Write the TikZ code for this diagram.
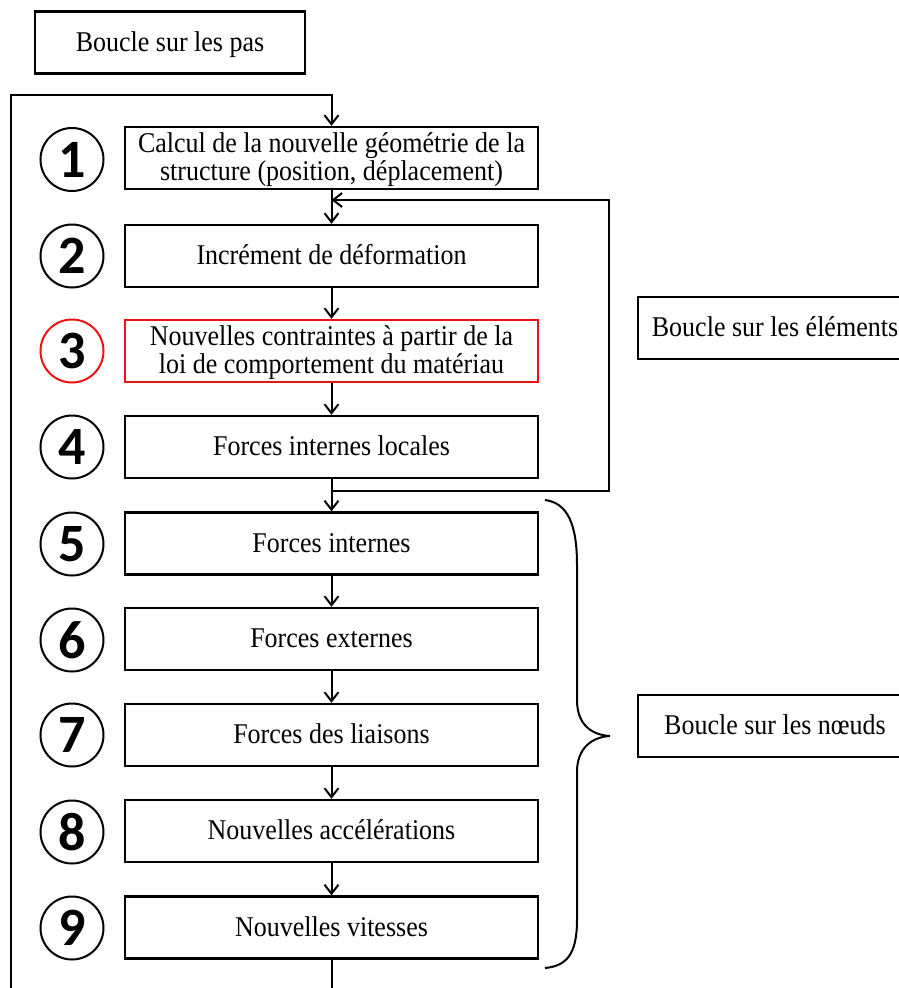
\documentclass[tikz,border=0pt]{standalone}
\usepackage{fontspec}
\usepackage{graphicx}
\setmainfont{Liberation Serif}
\newfontfamily\numfont{Carlito}
\usetikzlibrary{arrows.meta}
\definecolor{myred}{RGB}{235,20,20}
\newcommand\vtext[1]{\raisebox{-3pt}[\height][\depth]{\scalebox{1}[1.1]{\begin{tabular}{@{}c@{}}#1\end{tabular}}}}
\begin{document}
\begin{tikzpicture}[x=1pt,y=-1pt,
  txt/.style={font=\fontsize{26}{25.5}\selectfont},
  stepbox/.style={txt, draw, line width=2.4pt, minimum width=413pt, minimum height=62pt, inner sep=0pt, align=center},
  loopbox/.style={txt, draw, line width=2.4pt, minimum height=62pt, inner sep=0pt, align=center},
  numc/.style={draw, circle, line width=2pt, minimum size=63pt, inner sep=0pt, font=\numfont\bfseries\fontsize{54}{54}\selectfont},
  conn/.style={line width=2pt, -{Straight Barb[length=9pt,width=14pt]}},
  line/.style={line width=2pt}
]
\useasboundingbox (0,0) rectangle (899,988);
\clip (0,0) rectangle (899,988);

\node[loopbox, minimum width=270pt] (pas) at (170,42.5) {\vtext{Boucle sur les pas}};
\node[loopbox, minimum width=274pt] (elem) at (775,328) {\vtext{Boucle sur les éléments}};
\node[loopbox, minimum width=274pt] (noeud) at (775,726) {\vtext{Boucle sur les nœuds}};

\node[stepbox] (b1) at (331.5,158) {\vtext{Calcul de la nouvelle géométrie de la\\structure (position, déplacement)}};
\node[stepbox] (b2) at (331.5,256) {\vtext{Incrément de déformation}};
\node[stepbox, draw=myred] (b3) at (331.5,351) {\vtext{Nouvelles contraintes à partir de la\\loi de comportement du matériau}};
\node[stepbox] (b4) at (331.5,447) {\vtext{Forces internes locales}};
\node[stepbox] (b5) at (331.5,543.5) {\vtext{Forces internes}};
\node[stepbox] (b6) at (331.5,639) {\vtext{Forces externes}};
\node[stepbox] (b7) at (331.5,735) {\vtext{Forces des liaisons}};
\node[stepbox] (b8) at (331.5,831) {\vtext{Nouvelles accélérations}};
\node[stepbox] (b9) at (331.5,927.5) {\vtext{Nouvelles vitesses}};

\node[numc] (n1) at (72,159.5) {1};
\node[numc] (n2) at (72,256) {2};
\node[numc, draw=myred] (n3) at (72,351) {3};
\node[numc] (n4) at (72,447) {4};
\node[numc] (n5) at (72,544) {5};
\node[numc] (n6) at (72,640) {6};
\node[numc] (n7) at (72,735) {7};
\node[numc] (n8) at (72,832) {8};
\node[numc] (n9) at (72,928) {9};

% outer loop
\coordinate (bot) at (331.5,1010);
\coordinate (outl) at (11,1010);
\coordinate (outt) at (11,95);
\draw[conn] (b9.south) -- (bot) -- (outl) -- (outt) -| (b1.north);

% chain
\draw[conn] (b1) -- (b2);
\draw[conn] (b2) -- (b3);
\draw[conn] (b3) -- (b4);
\draw[conn] (b4) -- (b5);
\draw[conn] (b5) -- (b6);
\draw[conn] (b6) -- (b7);
\draw[conn] (b7) -- (b8);
\draw[conn] (b8) -- (b9);

% element loop
\coordinate (j4) at (331.5,491);
\coordinate (j1) at (331.5,200);
\coordinate (er) at (609,491);
\draw[conn] (j4) -- (er) |- (j1);

% brace
\draw[line] (545,500) .. controls (568,503) and (577,525) .. (577,565)
  -- (577,700) .. controls (577,725) and (592,735) .. (610,736)
  .. controls (592,737) and (577,748) .. (577,772)
  -- (577,920) .. controls (577,955) and (566,966) .. (545,968);
\end{tikzpicture}
\end{document}
